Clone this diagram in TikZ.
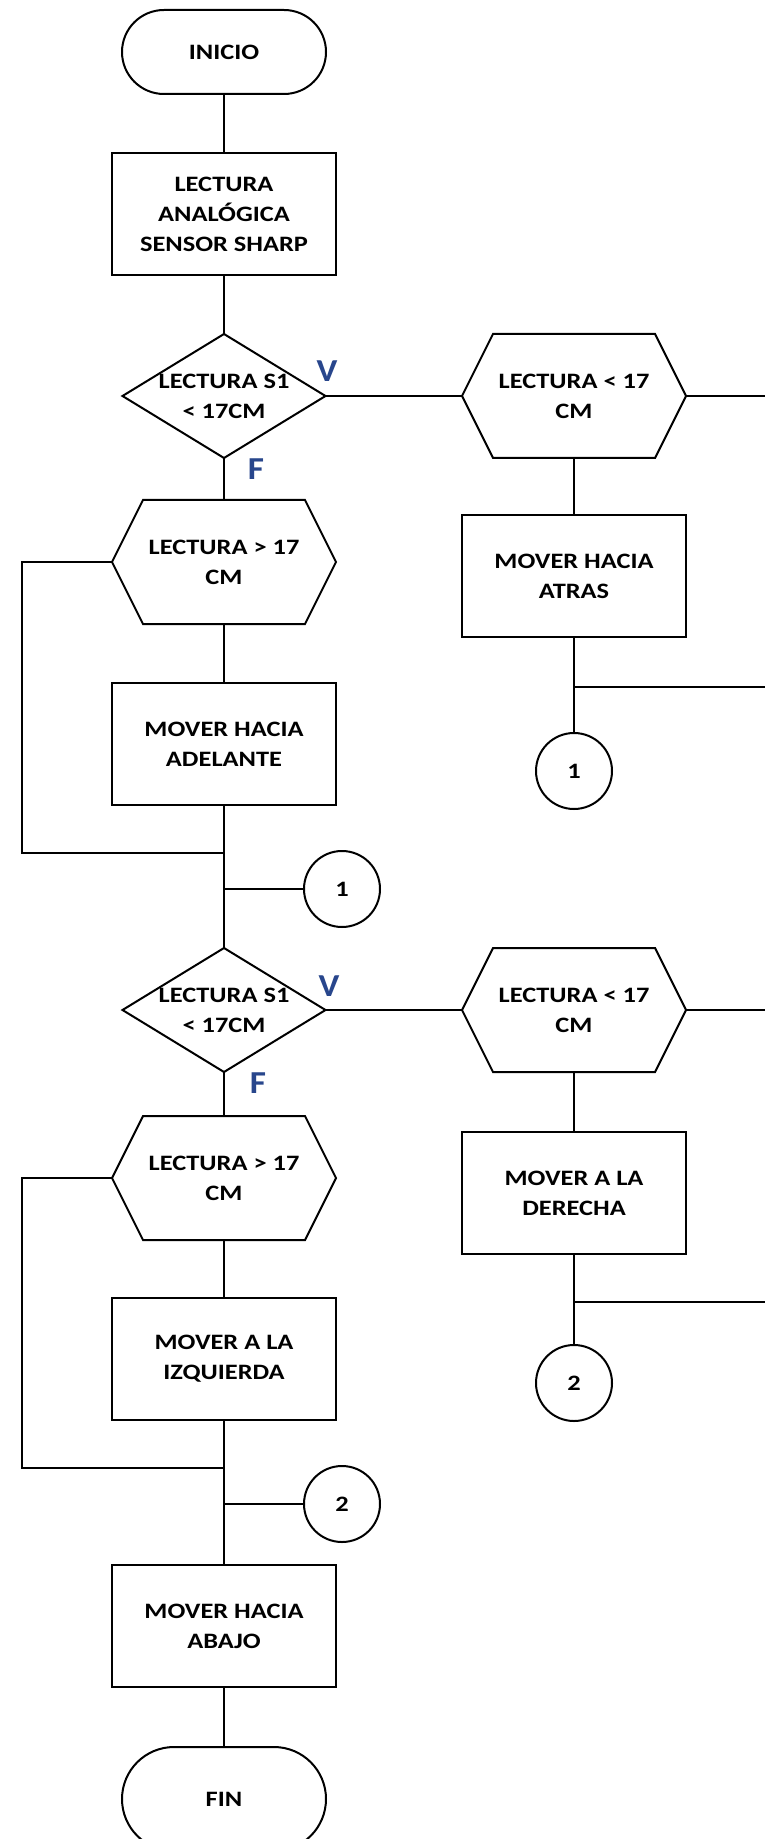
\documentclass[tikz,border=0pt]{standalone}
\usepackage{fontspec}
\setmainfont{Carlito}[FakeStretch=1.2]
\newfontfamily\tagfont{Carlito}[FakeStretch=1.1]
\definecolor{tagblue}{RGB}{40,70,140}

\begin{document}
\begin{tikzpicture}[x=0.5pt, y=-0.5pt, line width=1pt,
    node font=\fontsize{11}{15}\selectfont\bfseries,
    box/.style={draw, minimum width=112pt, minimum height=61pt, align=center, inner sep=0pt},
    term/.style={draw, rounded corners=21pt, minimum width=102pt, minimum height=42pt},
    plain/.style={minimum width=111pt, minimum height=61pt, align=center, inner sep=0pt},
    conn/.style={draw, circle, minimum size=38pt, inner sep=0pt},
    tag/.style={font=\tagfont\fontsize{16}{16}\selectfont, text=tagblue}]
  \def\hexin{15.5pt} % how far in the hexagon corners sit
  \useasboundingbox (0,0) rectangle (765,1839);

  % main column
  \node[term] (ini) at (224,52) {INICIO};
  \node[box] (lec) at (224,214) {LECTURA\\ANALÓGICA\\SENSOR SHARP};
  \node[plain, minimum width=100.5pt] (d1) at (224,396) {LECTURA S1\\< 17CM};
  \node[plain] (hl1) at (224,562) {LECTURA > 17\\CM};
  \node[box] (adel) at (224,744) {MOVER HACIA\\ADELANTE};
  \node[conn] (cl1) at (342,889) {1};
  \node[plain, minimum width=100.5pt] (d2) at (224,1010) {LECTURA S1\\< 17CM};
  \node[plain] (hl2) at (224,1178) {LECTURA > 17\\CM};
  \node[box] (izq) at (224,1359) {MOVER A LA\\IZQUIERDA};
  \node[conn] (cl2) at (342,1504) {2};
  \node[box] (abajo) at (224,1626) {MOVER HACIA\\ABAJO};
  \node[term, minimum height=52pt, rounded corners=26pt] (fin) at (224,1799) {FIN};

  % right column
  \node[plain] (hr1) at (574,396) {LECTURA < 17\\CM};
  \node[box] (atras) at (574,576) {MOVER HACIA\\ATRAS};
  \node[conn] (cr1) at (574,771) {1};
  \node[plain] (hr2) at (574,1010) {LECTURA < 17\\CM};
  \node[box] (der) at (574,1193) {MOVER A LA\\DERECHA};
  \node[conn] (cr2) at (574,1383) {2};

  \node[tag] (v1) at (327,371) {V};
  \node[tag] (f1) at (256,469) {F};
  \node[tag] (v2) at (329,986) {V};
  \node[tag] (f2) at (258,1083) {F};

  \foreach \h in {hr1,hl1,hr2,hl2}
    \draw ([xshift=\hexin]\h.north west) -- ([xshift=-\hexin]\h.north east) -- (\h.east)
      -- ([xshift=-\hexin]\h.south east) -- ([xshift=\hexin]\h.south west) -- (\h.west) -- cycle;
  \foreach \d in {d1,d2}
    \draw (\d.north) -- (\d.east) -- (\d.south) -- (\d.west) -- cycle;

  \coordinate (edge) at (765,0);
  \coordinate (j1) at (574,687);
  \coordinate (j2) at (574,1302);
  \coordinate (l1) at (22,853);
  \coordinate (l2) at (22,1468);

  \draw (ini) -- (lec);
  \draw (lec) -- (d1.north);
  \draw (d1.south) -- (hl1.north);
  \draw (hl1.south) -- (adel.north);
  \draw (adel.south) -- (d2.north);
  \draw (hl1.west) -| (l1) -- (l1 -| adel.south);
  \draw (cl1.west) -- (cl1.west -| adel.south);
  \draw (d2.south) -- (hl2.north);
  \draw (hl2.south) -- (izq.north);
  \draw (izq.south) -- (abajo.north);
  \draw (hl2.west) -| (l2) -- (l2 -| izq.south);
  \draw (cl2.west) -- (cl2.west -| izq.south);
  \draw (abajo) -- (fin);

  \draw (d1.east) -- (hr1.west);
  \draw (hr1.east) -- (hr1.east -| edge);
  \draw (hr1.south) -- (atras.north);
  \draw (atras.south) -- (cr1.north);
  \draw (j1) -- (j1 -| edge);
  \draw (d2.east) -- (hr2.west);
  \draw (hr2.east) -- (hr2.east -| edge);
  \draw (hr2.south) -- (der.north);
  \draw (der.south) -- (cr2.north);
  \draw (j2) -- (j2 -| edge);
\end{tikzpicture}
\end{document}
